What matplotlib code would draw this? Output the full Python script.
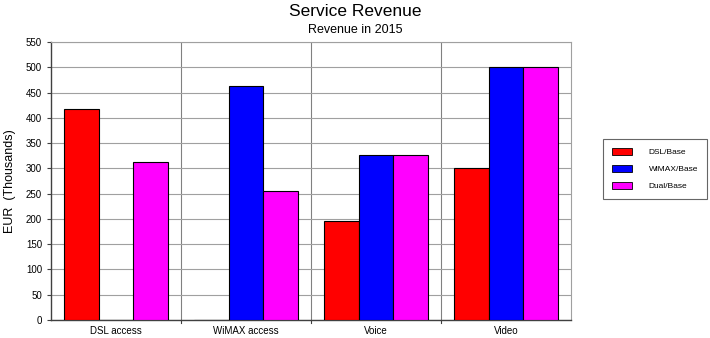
import numpy as np
import matplotlib.pyplot as plt
from matplotlib.patches import Patch

plt.rcParams['font.family'] = ['Liberation Sans', 'DejaVu Sans']

# Datos
categorias = ['DSL access', 'WiMAX access', 'Voice', 'Video']
series = ['DSL/Base', 'WiMAX/Base', 'Dual/Base']
dsl_base = [417, 0, 196, 300]
wimax_base = [0, 463, 327, 500]
dual_base = [313, 255, 327, 500]
colores = ['#FF0000', '#0000FF', '#FF00FF']

fig = plt.figure(figsize=(7.1, 3.38), dpi=100)
ax = fig.add_axes([51/710, 18/338, 520/710, 278/338])

x = np.arange(len(categorias))
ancho = 0.8 / 3
for i, (valores, color) in enumerate(zip([dsl_base, wimax_base, dual_base], colores)):
    ax.bar(x - 0.4 + ancho * (i + 0.5), valores, ancho, color=color,
           edgecolor='#000000', linewidth=0.8, zorder=3)

ax.set_xlim(-0.5, len(categorias) - 0.5)
ax.set_ylim(0, 550)
ax.set_yticks(np.arange(0, 551, 50))
ax.set_xticks(x)
ax.set_xticklabels(categorias, fontsize=7)
ax.tick_params(axis='x', length=0, pad=4)
ax.tick_params(axis='y', labelsize=7, length=3, color='#404040')

# Rejilla
ax.yaxis.grid(True, color='#A0A0A0', linewidth=0.8, zorder=0)
for b in np.arange(0.5, len(categorias) - 0.5, 1):
    ax.axvline(b, color='#808080', linewidth=0.8, zorder=0)
    ax.plot([b, b], [0, -0.011], transform=ax.get_xaxis_transform(),
            color='#404040', linewidth=0.8, clip_on=False)

for lado in ['top', 'right']:
    ax.spines[lado].set_color('#A0A0A0')
for lado in ['left', 'bottom']:
    ax.spines[lado].set_color('#404040')
    ax.spines[lado].set_linewidth(1.0)

ax.set_ylabel('EUR  (Thousands)', fontsize=9, labelpad=7)

fig.text(0.5, 1 - 12/338, 'Service Revenue', ha='center', va='center', fontsize=12.5)
fig.text(0.5, 1 - 30/338, 'Revenue in 2015', ha='center', va='center', fontsize=9)

handles = [Patch(facecolor=c, edgecolor='#000000', linewidth=0.6, label=s)
           for c, s in zip(colores, series)]
leg = fig.legend(handles=handles, loc='center', bbox_to_anchor=(655/710, 1 - 169/338),
                 fontsize=6, frameon=True, fancybox=False, edgecolor='#404040',
                 handlelength=2.4, handleheight=1.0, handletextpad=2.0,
                 borderpad=1.1, labelspacing=1.0, borderaxespad=0)
leg.get_frame().set_linewidth(0.8)

fig.savefig('out.png', dpi=100)
